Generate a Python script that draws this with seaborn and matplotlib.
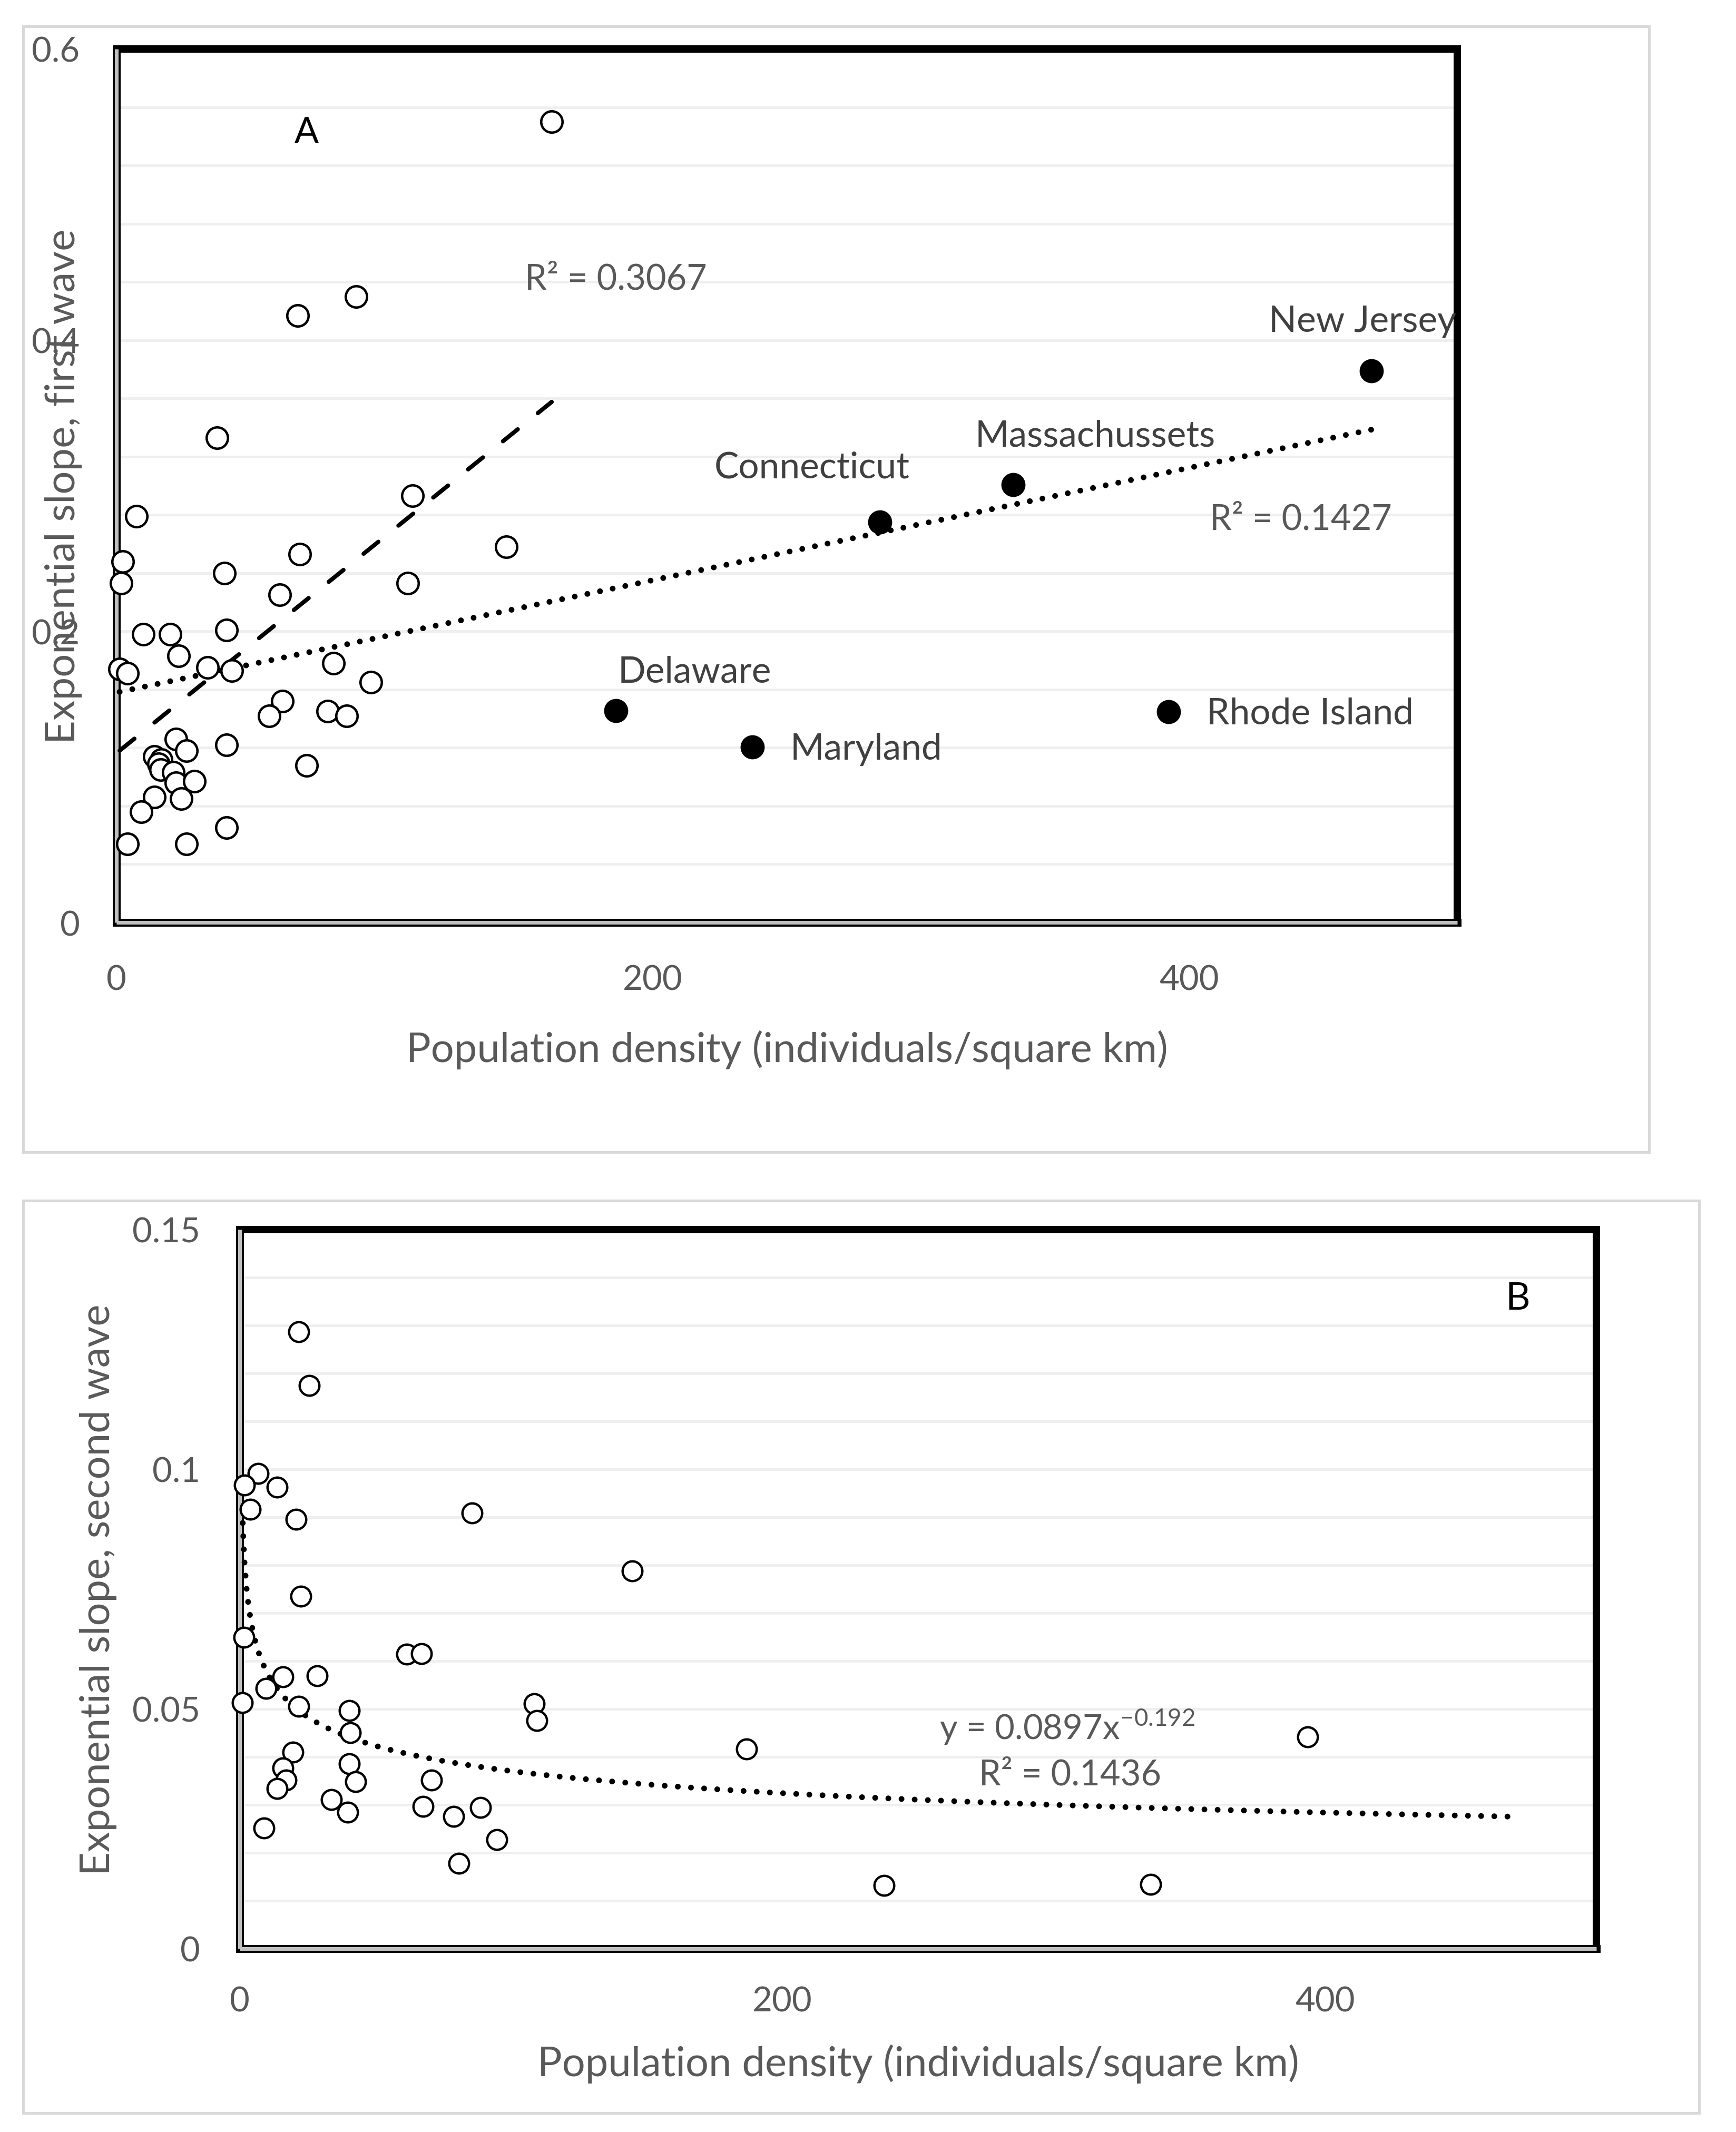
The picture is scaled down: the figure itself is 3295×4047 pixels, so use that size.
import matplotlib
matplotlib.use("Agg")
import matplotlib.pyplot as plt
import numpy as np
import pandas as pd
import seaborn as sns
from matplotlib.patches import Rectangle
from matplotlib.ticker import MultipleLocator

# ---- panel A: first wave ----
# open circles: states not labelled
a_density = [162.3, 89.3, 67.6, 37.5, 110.5, 7.5, 145.3, 2.3, 1.7, 68.4, 40.2, 108.6, 60.9,
             10.1, 20.1, 41.0, 23.1, 1.2, 4.2, 34.0, 43.1, 80.9, 94.8, 61.9, 57.0, 78.8, 85.8,
             22.2, 26.2, 41.0, 14.1, 16.7, 15.8, 16.5, 21.3, 22.2, 29.0, 14.1, 24.1, 9.2, 70.9,
             4.2, 26.2, 41.0]
a_slope = [0.550, 0.430, 0.417, 0.333, 0.293, 0.279, 0.258, 0.248, 0.233, 0.253, 0.240, 0.233, 0.225,
           0.198, 0.198, 0.201, 0.183, 0.174, 0.171, 0.175, 0.173, 0.178, 0.165, 0.152, 0.142, 0.145, 0.142,
           0.126, 0.118, 0.122, 0.114, 0.112, 0.109, 0.105, 0.103, 0.096, 0.097, 0.086, 0.085, 0.076, 0.108,
           0.054, 0.054, 0.065]
# filled circles: labelled north-eastern states
a_states = ["Delaware", "Maryland", "Connecticut", "Massachussets", "New Jersey", "Rhode Island"]
a_state_density = [186.3, 237.1, 284.7, 334.4, 468.0, 392.3]
a_state_slope = [0.1455, 0.1205, 0.275, 0.3008, 0.379, 0.1447]
a_r2_open = "R² = 0.3067"
a_r2_all = "R² = 0.1427"

# ---- panel B: second wave ----
b_density = [21.7, 25.7, 6.7, 1.7, 13.8, 3.8, 20.8, 85.6, 144.6, 22.5, 1.6, 61.5, 67.0, 15.9,
             28.6, 9.8, 0.9, 21.7, 40.4, 108.5, 109.5, 40.7, 186.7, 19.6, 15.9, 40.4, 17.0, 13.7,
             42.7, 70.7, 33.7, 39.8, 67.6, 88.7, 78.9, 9.0, 94.8, 80.7, 237.5, 335.7, 393.6]
b_slope = [0.1287, 0.1175, 0.0991, 0.0967, 0.0963, 0.0916, 0.0896, 0.0909, 0.0788, 0.0735, 0.0649,
           0.0614, 0.0615, 0.0567, 0.0569, 0.0543, 0.0513, 0.0505, 0.0497, 0.0511, 0.0476, 0.0451,
           0.0416, 0.0410, 0.0377, 0.0386, 0.0352, 0.0334, 0.0348, 0.0352, 0.0311, 0.0285, 0.0297,
           0.0294, 0.0276, 0.0252, 0.0227, 0.0178, 0.0132, 0.0134, 0.0442]
# power trendline printed on the chart: y = 0.0897 x^-0.192
b_fit_coef = 0.0897
b_fit_power = -0.192
b_equation = r"y = 0.0897x$^{\mathregular{-0.192}}$"
b_r2 = "R² = 0.1436"

x_label = "Population density (individuals/square km)"
PX = 0.72  # points per pixel at dpi 100

sns.set_theme(style="white")
plt.rcParams["font.family"] = ["Lato", "DejaVu Sans"]
plt.rcParams["mathtext.fontset"] = "custom"
plt.rcParams["mathtext.rm"] = "Lato"
plt.rcParams["lines.scale_dashes"] = False

fig = plt.figure(figsize=(32.95, 40.48), dpi=100)
fig.patch.set_facecolor("white")

# chart-area borders
for (x0, y0, x1, y1) in [(44, 51, 3130, 2188), (44, 2280, 3225, 4012)]:
    fig.patches.append(Rectangle((x0 / 3295, 1 - y1 / 4048), (x1 - x0) / 3295, (y1 - y0) / 4048,
                                 transform=fig.transFigure, fill=False,
                                 edgecolor="#d9d9d9", linewidth=5 * PX))

ax_a = fig.add_axes([0.06707, 0.56719, 0.77238, 0.40959])
ax_b = fig.add_axes([0.13809, 0.08597, 0.78149, 0.33721])


def style_axes(ax, grid_step):
    ax.set_facecolor("white")
    ax.yaxis.set_minor_locator(MultipleLocator(grid_step))
    ax.grid(which="both", axis="y", color="#efefef", linewidth=5 * PX, zorder=0)
    ax.grid(False, axis="x")
    ax.tick_params(which="both", length=0, labelsize=47, labelcolor="#595959")
    for side in ["top", "right"]:
        ax.spines[side].set_linewidth(14 * PX)
        ax.spines[side].set_color("black")
        ax.spines[side].set_capstyle("projecting")
    for side in ["left", "bottom"]:
        ax.spines[side].set_linewidth(15 * PX)
        ax.spines[side].set_color("black")
        ax.spines[side].set_capstyle("projecting")
    # grey stripe inside the double left/bottom border
    ax.plot([0, 0], [0, 1], transform=ax.transAxes, color="#c0c0c0", linewidth=7 * PX,
            solid_capstyle="butt", clip_on=False, zorder=3)
    ax.plot([0, 1], [0, 0], transform=ax.transAxes, color="#c0c0c0", linewidth=7 * PX,
            solid_capstyle="butt", clip_on=False, zorder=3)


# ---------------- panel A ----------------
style_axes(ax_a, 0.04)
df_open = pd.DataFrame({"density": a_density, "slope": a_slope})
df_named = pd.DataFrame({"state": a_states, "density": a_state_density, "slope": a_state_slope})

sns.scatterplot(data=df_open, x="density", y="slope", ax=ax_a, marker="o", s=850,
                color="white", edgecolor="black", linewidth=3.3, zorder=4, clip_on=False)
sns.scatterplot(data=df_named, x="density", y="slope", ax=ax_a, marker="o", s=880,
                color="black", edgecolor="black", linewidth=3.3, zorder=4, clip_on=False)

# linear trendlines, fitted the way the spreadsheet does it
k_open, c_open = np.polyfit(df_open["density"], df_open["slope"], 1)
x_open = np.array([df_open["density"].min(), df_open["density"].max()])
all_x = pd.concat([df_open["density"], df_named["density"]])
all_y = pd.concat([df_open["slope"], df_named["slope"]])
k_all, c_all = np.polyfit(all_x, all_y, 1)
x_all = np.array([all_x.min(), all_x.max()])

ax_a.plot(x_open, k_open * x_open + c_open, color="black", linewidth=8 * PX,
          linestyle=(0, (36 * PX, 49 * PX)), dash_capstyle="round", zorder=3)
ax_a.plot(x_all, k_all * x_all + c_all, color="black", linewidth=11 * PX,
          linestyle=(0, (0.01, 24.5 * PX)), dash_capstyle="round", zorder=3)

label_pos_a = {
    "Delaware": (215.5, 0.1723),
    "Maryland": (279.6, 0.1194),
    "Connecticut": (259.4, 0.3127),
    "Massachussets": (365.0, 0.3344),
    "New Jersey": (464.6, 0.413),
    "Rhode Island": (445.0, 0.1437),
}
for name in a_states:
    tx, ty = label_pos_a[name]
    ax_a.text(tx, ty, name, ha="center", va="center", fontsize=50, color="#404040", zorder=5)
ax_a.text(186.3, 0.442, a_r2_open, ha="center", va="center", fontsize=48, color="#595959")
ax_a.text(441.7, 0.277, a_r2_all, ha="center", va="center", fontsize=48, color="#595959")
ax_a.text(70.9, 0.543, "A", ha="center", va="center", fontsize=49, color="black")

ax_a.set_xlim(0, 500)
ax_a.set_ylim(0, 0.6)
ax_a.set_xticks([0, 200, 400], ["0", "200", "400"])
ax_a.set_yticks([0, 0.2, 0.4, 0.6], ["0", "0.2", "0.4", "0.6"])
ax_a.tick_params(axis="x", pad=57)
ax_a.tick_params(axis="y", pad=50)
ax_a.set_xlabel(x_label, fontsize=56, color="#595959", va="center")
ax_a.set_ylabel("Exponential slope, first wave", fontsize=56, color="#595959", va="center")
ax_a.xaxis.set_label_coords(0.5, -0.1454)
ax_a.yaxis.set_label_coords(-0.0393, 0.5)

# ---------------- panel B ----------------
style_axes(ax_b, 0.01)
df_b = pd.DataFrame({"density": b_density, "slope": b_slope})
sns.scatterplot(data=df_b, x="density", y="slope", ax=ax_b, marker="o", s=730,
                color="white", edgecolor="black", linewidth=3.2, zorder=4, clip_on=False)

# power trendline spans the full range of densities (New Jersey is off-scale here)
x_fit = np.linspace(df_b["density"].min(), df_named["density"].max(), 600)
y_fit = b_fit_coef * x_fit ** b_fit_power
ax_b.plot(x_fit, y_fit, color="black", linewidth=11 * PX,
          linestyle=(0, (0.01, 25 * PX)), dash_capstyle="round", zorder=3)

ax_b.text(305.0, 0.0464, b_equation, ha="center", va="center", fontsize=47, color="#595959")
ax_b.text(306.0, 0.0363, b_r2, ha="center", va="center", fontsize=48, color="#595959")
ax_b.text(471.0, 0.1357, "B", ha="center", va="center", fontsize=52, color="black")

ax_b.set_xlim(0, 500)
ax_b.set_ylim(0, 0.15)
ax_b.set_xticks([0, 200, 400], ["0", "200", "400"])
ax_b.set_yticks([0, 0.05, 0.1, 0.15], ["0", "0.05", "0.1", "0.15"])
ax_b.tick_params(axis="x", pad=51)
ax_b.tick_params(axis="y", pad=54)
ax_b.set_xlabel(x_label, fontsize=56, color="#595959", va="center")
ax_b.set_ylabel("Exponential slope, second wave", fontsize=56, color="#595959", va="center")
ax_b.xaxis.set_label_coords(0.5, -0.1597)
ax_b.yaxis.set_label_coords(-0.1041, 0.5)

fig.savefig("out.png", dpi=100, facecolor="white")
